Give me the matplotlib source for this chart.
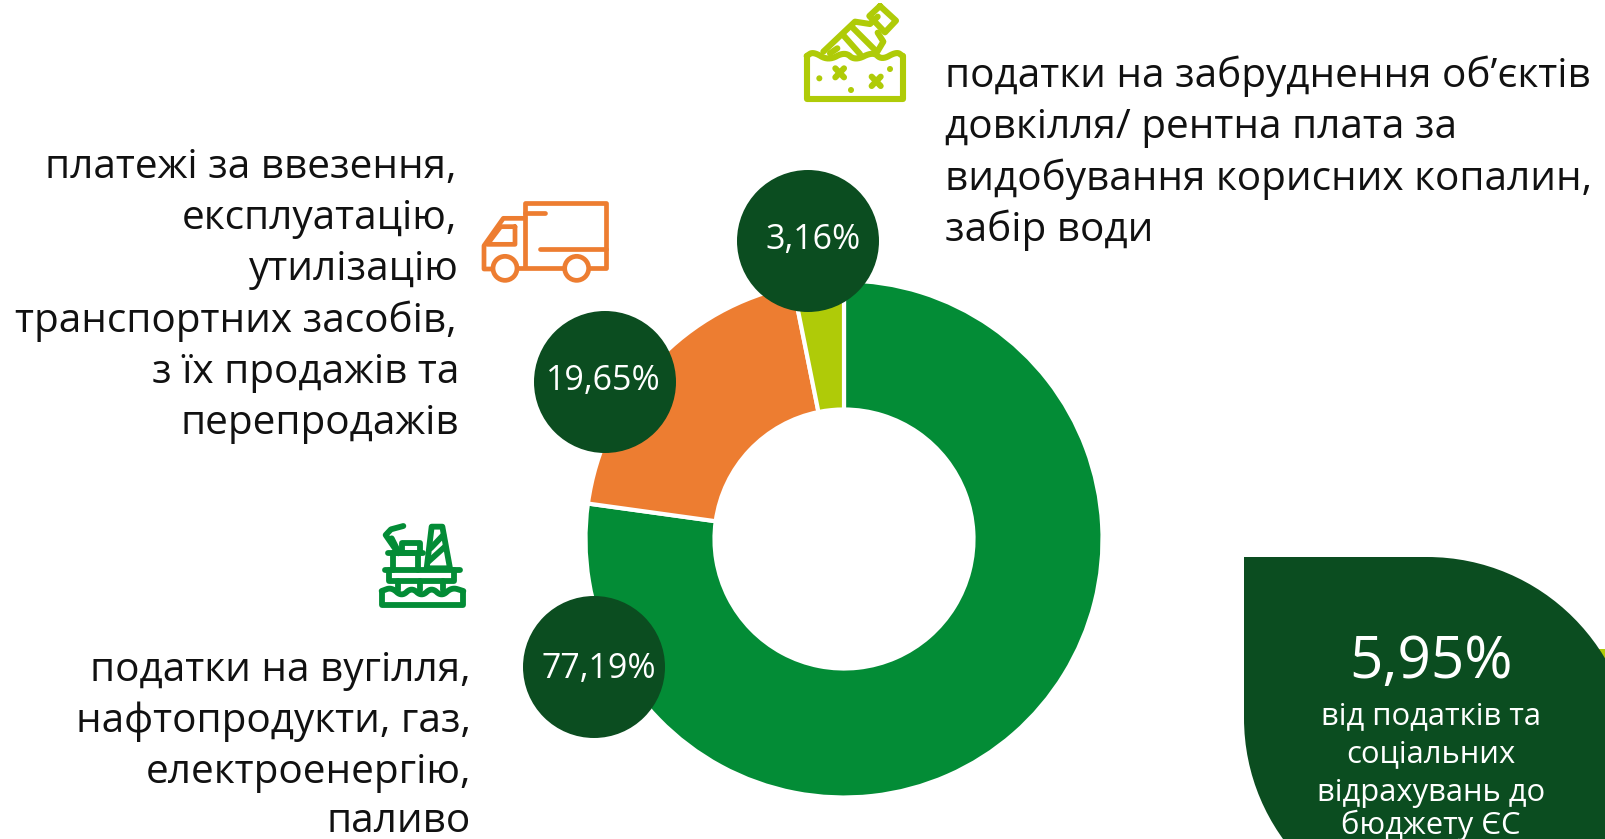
import numpy as np
import matplotlib
matplotlib.use("Agg")
import matplotlib.pyplot as plt
from matplotlib.patches import Circle, PathPatch, Rectangle
from matplotlib.path import Path

W, H = 1606, 839
FONT = "Open Sans"
plt.rcParams["font.family"] = [FONT, "DejaVu Sans"]

# data
shares = [77.19, 19.65, 3.16]
share_labels = ["77,19%", "19,65%", "3,16%"]
EU_share_label = "5,95%"
EU_text = ["від податків та", "соціальних", "відрахувань до", "бюджету ЄС"]
energy_text = ["податки на вугілля,", "нафтопродукти, газ,", "електроенергію,", "паливо"]
transport_text = ["платежі за ввезення,", "експлуатацію,", "утилізацію", "транспортних засобів,", "з їх продажів та", "перепродажів"]
pollution_text = ["податки на забруднення об’єктів", "довкілля/ рентна плата за", "видобування корисних копалин,", "забір води"]

GREEN = "#038C36"
ORANGE = "#ED7D31"
LIME = "#AFCB08"
DARK = "#0B4D20"

fig = plt.figure(figsize=(W / 100, H / 100), dpi=100, facecolor="white")

# donut
cx, cy, R, r_in = 844, 539, 258.5, 129.5
pie_ax = fig.add_axes([(cx - R) / W, (H - cy - R) / H, 2 * R / W, 2 * R / H])
pie_ax.pie(shares, colors=[GREEN, ORANGE, LIME], startangle=90, counterclock=False, radius=1,
           wedgeprops=dict(width=1 - r_in / R, edgecolor="white", linewidth=3))
pie_ax.set_xlim(-1, 1)
pie_ax.set_ylim(-1, 1)

# overlay in pixel coordinates
ax = fig.add_axes([0, 0, 1, 1], zorder=5)
ax.set_xlim(0, W)
ax.set_ylim(H, 0)
ax.axis("off")
ax.patch.set_alpha(0)


def chaikin(pts, n=3):
    p = np.asarray(pts, float)
    for _ in range(n):
        q = 0.75 * p[:-1] + 0.25 * p[1:]
        s = 0.25 * p[:-1] + 0.75 * p[1:]
        mid = np.empty((2 * len(q), 2))
        mid[0::2] = q
        mid[1::2] = s
        p = np.vstack([p[0], mid, p[-1]])
    return p


def icon(origin, colour, lines=(), circles=(), dots=(), lw=2.9):
    ox, oy = origin
    for pts in lines:
        a = np.asarray(pts, float) / 3 + [ox, oy]
        ax.plot(a[:, 0], a[:, 1], color=colour, lw=lw, solid_capstyle="round", solid_joinstyle="round")
    for (x, y, rad) in circles:
        ax.add_patch(Circle((ox + x / 3, oy + y / 3), rad / 3, fc="white", ec=colour, lw=lw, zorder=3))
    for (x, y, rad) in dots:
        ax.add_patch(Circle((ox + x / 3, oy + y / 3), rad / 3, fc=colour, ec="none", zorder=3))


# pollution icon
icon((780, 0), LIME,
     lines=[
         [(80, 168), (80, 298), (368, 298), (368, 168)],
         chaikin([(80, 168), (100, 155), (145, 182), (195, 155), (225, 182), (280, 155), (305, 180), (350, 155), (368, 168)]),
         [(130, 155), (225, 65), (270, 72), (293, 50)],
         [(293, 98), (310, 125), (292, 155)],
         [(300, 18), (348, 62), (315, 97), (268, 48), (300, 18)],
         [(192, 108), (240, 162)],
         [(220, 85), (285, 150)],
         [(150, 160), (172, 145)],
         [(166, 205), (192, 232)], [(192, 205), (166, 232)],
         [(275, 230), (302, 258)], [(302, 230), (275, 258)],
     ],
     dots=[(118, 235, 9), (213, 270, 9), (330, 207, 9)], lw=4.4)

# transport icon
icon((470, 185), ORANGE,
     lines=[
         [(165, 245), (165, 55), (408, 55), (408, 250), (358, 250)],
         [(165, 85), (225, 85)],
         [(210, 192), (408, 192)],
         [(140, 250), (283, 250)],
         [(165, 100), (100, 100), (42, 182), (42, 252), (68, 252)],
         [(135, 125), (135, 178), (52, 178), (92, 125), (135, 125)],
     ],
     circles=[(105, 250, 36), (320, 250, 36)], lw=3.4)

# energy icon
icon((365, 510), GREEN,
     lines=[
         [(50, 245), (50, 285), (295, 285), (295, 245)],
         chaikin([(50, 243), (80, 232), (110, 260), (140, 232), (170, 260), (200, 232), (230, 260), (260, 232), (295, 243)]),
         [(60, 180), (285, 180)],
         [(72, 180), (72, 212), (268, 212), (268, 180)],
         [(100, 212), (100, 240)], [(165, 212), (165, 240)], [(235, 212), (235, 240)],
         [(85, 180), (85, 130), (160, 130), (160, 180)],
         [(68, 130), (175, 130)],
         [(112, 130), (112, 100), (165, 100), (165, 130)],
         [(100, 130), (62, 75), (78, 58), (115, 48)],
         [(80, 85), (100, 125)],
         [(185, 175), (200, 50), (232, 50), (255, 175), (185, 175)],
         [(190, 155), (240, 110)], [(197, 115), (235, 75)],
     ], lw=4.2)

# value bubbles
bubble_xy = [(594, 667), (605, 382), (808, 241)]
label_xy = [(599, 669), (603, 381), (813, 240)]
for (x, y), (lx, ly), lab in zip(bubble_xy, label_xy, share_labels):
    ax.add_patch(Circle((x, y), 71, fc=DARK, ec="none", zorder=4))
    ax.text(lx, ly, lab, color="white", ha="center", va="center", fontsize=24.5, zorder=5)

# category text
TXT = "#111111"
FS = 29.2
for s, y, xr in zip(energy_text, [671, 722, 773, 822], [471] * 4):
    ax.text(xr, y, s, ha="right", va="center", fontsize=FS, color=TXT)
for s, y, xr in zip(transport_text, [168, 219, 270, 321, 373, 424], [457, 457, 459, 457, 459, 459]):
    ax.text(xr, y, s, ha="right", va="center", fontsize=FS, color=TXT)
for s, y in zip(pollution_text, [76, 128, 179, 230]):
    ax.text(945, y, s, ha="left", va="center", fontsize=FS, color=TXT)

# EU panel
ax.add_patch(Rectangle((1560, 649), 60, 200, fc=LIME, ec="none", zorder=1))
k = 0.5523
rp = 207
x0, y0 = 1244, 557
xe, ye = 1427 + rp, 557 + rp
yl = 718
verts = [(x0, y0), (1427, y0),
         (1427 + k * rp, y0), (xe, ye - k * rp), (xe, ye),
         (xe, 1000), (1451, 1000), (1451, yl + rp),
         (1451 - k * rp, yl + rp), (x0, yl + k * rp), (x0, yl),
         (x0, y0)]
codes = [Path.MOVETO, Path.LINETO,
         Path.CURVE4, Path.CURVE4, Path.CURVE4,
         Path.LINETO, Path.LINETO, Path.LINETO,
         Path.CURVE4, Path.CURVE4, Path.CURVE4,
         Path.CLOSEPOLY]
ax.add_patch(PathPatch(Path(verts, codes), fc=DARK, ec="none", zorder=2))
ax.text(1431, 663, EU_share_label, color="white", ha="center", va="center", fontsize=42, zorder=5)
for s, y in zip(EU_text, [716, 754, 793, 825]):
    ax.text(1431, y, s, color="white", ha="center", va="center", fontsize=22.3, zorder=5)

fig.savefig("out.png", dpi=100)
